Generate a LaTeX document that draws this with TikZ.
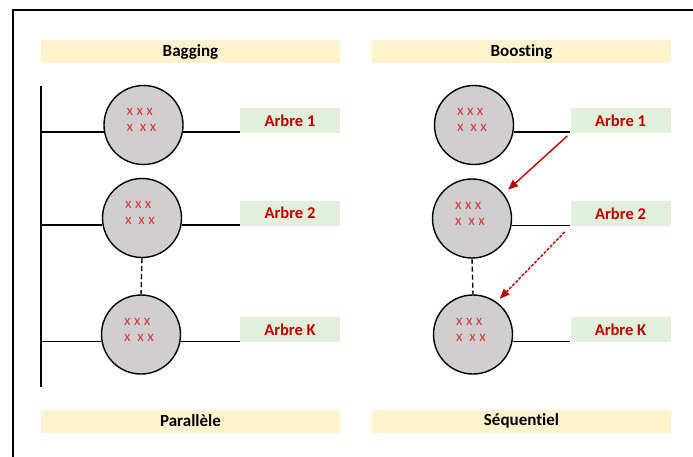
\documentclass[tikz,border=0pt]{standalone}
\usepackage{fontspec}
\setmainfont{Carlito}[Ligatures={NoCommon}]
\usetikzlibrary{arrows.meta}
\definecolor{headfill}{HTML}{FFF2CC}
\definecolor{treefill}{HTML}{E2EFDA}
\definecolor{ballfill}{HTML}{D0CECE}
\definecolor{treered}{HTML}{C00000}
\definecolor{markred}{HTML}{D63434}
\definecolor{arrowred}{HTML}{C00000}
\begin{document}
\begin{tikzpicture}[x=1pt,y=-1pt,
  bar/.style={fill=headfill, minimum width=299pt, minimum height=23pt, inner sep=0pt,
    font=\fontsize{17}{19}\selectfont\bfseries},
  tree/.style={fill=treefill, minimum width=100pt, minimum height=25pt, inner sep=0pt,
    text=treered, font=\fontsize{16.5}{18}\selectfont\bfseries},
  ball/.style={circle, draw, line width=1.4pt, fill=ballfill, minimum size=79pt, inner sep=0pt,
    label={[marks]center:{x x x\\x\ \ x x}}},
  marks/.style={text=markred, align=left, xshift=-2pt, yshift=5pt,
    font=\fontsize{15}{16}\selectfont},
  link/.style={line width=1.4pt},
  gap/.style={line width=1.4pt, dash pattern=on 5pt off 3pt},
  boost/.style={draw=arrowred, line width=1.4pt, -{Triangle[length=10pt,width=8pt]}, arrowred},
  boostnext/.style={boost, dash pattern=on 3pt off 1.5pt}]
\useasboundingbox (0,0) rectangle (693,456);
\clip (0,0) rectangle (693,456);

% outer frame
\draw[line width=2.6pt] (13,470) -- (13,10) -- (710,10);

% headers and footers
\node[bar] (hbag) at (190.5,51.5) {Bagging};
\node[bar] (hboost) at (521.5,51.5) {Boosting};
\node[bar] (fbag) at (190.5,421) {Parallèle};
\node[bar] (fboost) at (521.5,421) {Séquentiel};

% bagging: trees in parallel
\node[ball] (b1) at (143.5,125) {};
\node[ball] (b2) at (142,218) {};
\node[ball] (b3) at (141,334.5) {};
\node[tree] (ta1) at (290,120.5) {Arbre 1};
\node[tree] (ta2) at (290,213) {Arbre 2};
\node[tree] (ta3) at (290,329.5) {Arbre K};

\coordinate (bustop) at (41,86);
\coordinate (busbot) at (41,387);
\draw[link] (bustop) -- (busbot);
\foreach \b/\t in {b1/ta1,b2/ta2,b3/ta3}{
  \draw[link] (\b.190 -| bustop) -- (\b.190);
  \draw[link] (\b.-10) -- (\b.-10 -| \t.west);
}
\draw[gap] (b2.south) -- (b3.north);

% boosting: trees in sequence
\node[ball] (c1) at (474,125) {};
\node[ball] (c2) at (472,218.5) {};
\node[ball] (c3) at (473,334.5) {};
\node[tree] (tb1) at (620.5,120.5) {Arbre 1};
\node[tree] (tb2) at (620.5,213.5) {Arbre 2};
\node[tree] (tb3) at (620.5,329.5) {Arbre K};

\foreach \c/\t in {c1/tb1,c2/tb2,c3/tb3}{
  \draw[link] (\c.-10) -- (\c.-10 -| \t.west);
}
\draw[gap] (c2.south) -- (c3.north);

\draw[boost, shorten <=4pt, shorten >=6pt] (tb1.south west) -- (c2.38);
\draw[boostnext, shorten <=8pt, shorten >=4.5pt] (tb2.south west) -- (c3.54);
\end{tikzpicture}
\end{document}
